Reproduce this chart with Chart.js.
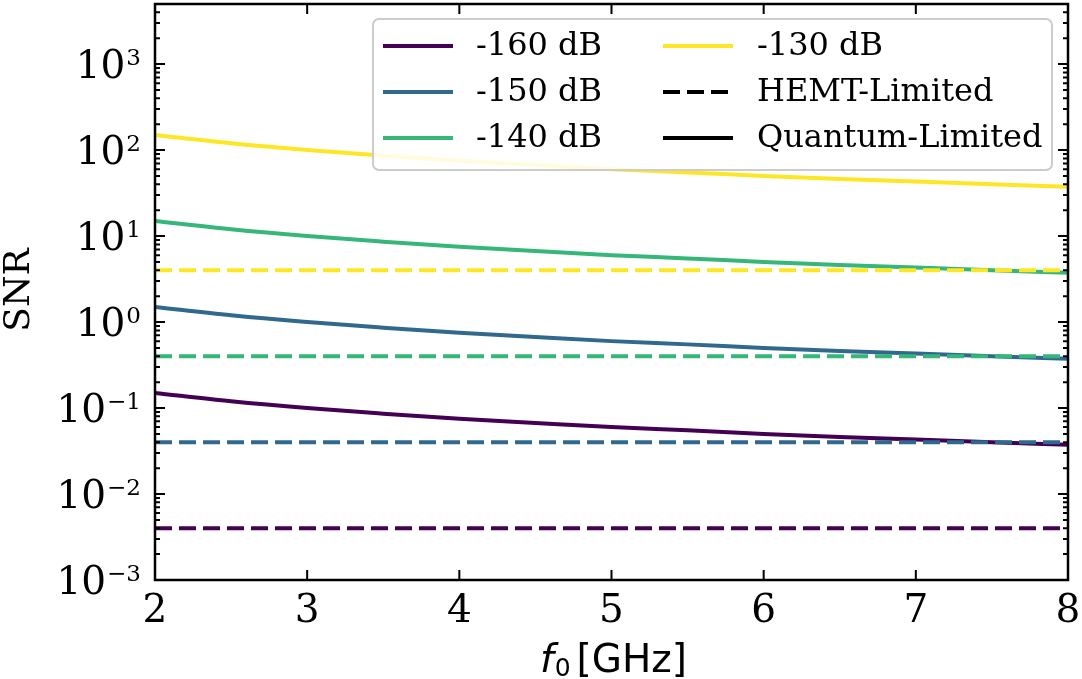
<!DOCTYPE html>
<html>
<head>
<meta charset="utf-8">
<script src="https://cdn.jsdelivr.net/npm/chart.js@4.4.1/dist/chart.umd.min.js"></script>
<style>
  html, body { margin: 0; padding: 0; background: #fff; }
</style>
</head>
<body>
<canvas id="snrChart" width="1082" height="679"></canvas>
<script>
// frequency grid (GHz)
const freqs = [2, 2.5, 3, 3.5, 4, 4.5, 5, 5.5, 6, 6.5, 7, 7.5, 8];

// signal levels and their colours
const levels = ['-160 dB', '-150 dB', '-140 dB', '-130 dB'];
const colors = ['#440154', '#31688e', '#35b779', '#fde725'];

// quantum-limited SNR at each frequency
const quantum160 = [0.15, 0.12, 0.1, 0.086, 0.075, 0.067, 0.06, 0.055, 0.05, 0.046, 0.043, 0.04, 0.0375];
const quantum150 = [1.5, 1.2, 1.0, 0.86, 0.75, 0.67, 0.6, 0.55, 0.5, 0.46, 0.43, 0.4, 0.375];
const quantum140 = [15, 12, 10, 8.6, 7.5, 6.7, 6, 5.5, 5, 4.6, 4.3, 4, 3.75];
const quantum130 = [150, 120, 100, 86, 75, 67, 60, 55, 50, 46, 43, 40, 37.5];
const quantumSeries = [quantum160, quantum150, quantum140, quantum130];

// HEMT-limited SNR (flat in frequency)
const hemtSNR = [0.004, 0.04, 0.4, 4];

const xTicks = [2, 3, 4, 5, 6, 7, 8];
const yExponents = [-3, -2, -1, 0, 1, 2, 3];

const SERIF = '"DejaVu Serif", serif';
const SANS = '"DejaVu Sans", sans-serif';
const DASH = [17, 7];
const LW = 4;

let datasets = [];
levels.forEach((lvl, i) => {
  datasets.push({
    label: lvl,
    data: freqs.map((f, k) => ({ x: f, y: quantumSeries[i][k] })),
    borderColor: colors[i],
    borderWidth: LW,
    pointRadius: 0,
    cubicInterpolationMode: 'monotone'
  });
  datasets.push({
    label: lvl + ' HEMT',
    data: [{ x: freqs[0], y: hemtSNR[i] }, { x: freqs[freqs.length - 1], y: hemtSNR[i] }],
    borderColor: colors[i],
    borderWidth: LW,
    borderDash: DASH,
    pointRadius: 0
  });
});
// later datasets go on top
datasets.forEach((d, i) => { d.order = datasets.length - i; });

function drawPow(ctx, exp, xRight, y) {
  const sup = exp < 0 ? '\u2212' + (-exp) : String(exp);
  ctx.textAlign = 'left';
  ctx.textBaseline = 'alphabetic';
  ctx.font = '23px ' + SERIF;
  const supW = ctx.measureText(sup).width;
  ctx.font = '39px ' + SERIF;
  const mainW = ctx.measureText('10').width;
  const supX = xRight - supW;
  ctx.fillText('10', supX - 1 - mainW, y + 14);
  ctx.font = '23px ' + SERIF;
  ctx.fillText(sup, supX, y + 1);
}

const axesPlugin = {
  id: 'axesFrame',
  afterDraw(chart) {
    const { ctx, chartArea: a, scales: { x, y } } = chart;
    ctx.save();
    ctx.strokeStyle = '#000';
    ctx.fillStyle = '#000';

    // ticks pointing inward on all four sides
    ctx.lineWidth = 2;
    ctx.beginPath();
    xTicks.forEach(v => {
      const px = x.getPixelForValue(v);
      ctx.moveTo(px, a.bottom); ctx.lineTo(px, a.bottom - 10);
      ctx.moveTo(px, a.top); ctx.lineTo(px, a.top + 10);
    });
    for (let e = -3; e <= 3; e++) {
      for (let m = 1; m <= 9; m++) {
        const v = m * Math.pow(10, e);
        if (v > y.max) break;
        const py = y.getPixelForValue(v);
        const len = m === 1 ? 10 : 5;
        ctx.moveTo(a.left, py); ctx.lineTo(a.left + len, py);
        ctx.moveTo(a.right, py); ctx.lineTo(a.right - len, py);
      }
    }
    ctx.stroke();

    ctx.lineWidth = 2.5;
    ctx.strokeRect(a.left, a.top, a.right - a.left, a.bottom - a.top);

    // tick labels
    ctx.font = '39px ' + SERIF;
    ctx.textAlign = 'center';
    ctx.textBaseline = 'alphabetic';
    xTicks.forEach(v => ctx.fillText(String(v), x.getPixelForValue(v), a.bottom + 42));
    yExponents.forEach(e => drawPow(ctx, e, 141, y.getPixelForValue(Math.pow(10, e))));

    // axis titles
    ctx.save();
    ctx.translate(20, (a.top + a.bottom) / 2 - 2);
    ctx.rotate(-Math.PI / 2);
    ctx.font = '36px ' + SERIF;
    ctx.textAlign = 'center';
    ctx.textBaseline = 'middle';
    ctx.fillText('SNR', 0, 0);
    ctx.restore();

    ctx.textAlign = 'left';
    ctx.textBaseline = 'alphabetic';
    ctx.font = 'italic 39px ' + SANS;
    const fW = ctx.measureText('f').width;
    ctx.font = '25px ' + SANS;
    const subW = ctx.measureText('0').width;
    ctx.font = '39px ' + SANS;
    const unitW = ctx.measureText('[GHz]').width;
    const gap = 6;
    let tx = (a.left + a.right) / 2 + 2 - (fW + 1 + subW + gap + unitW) / 2;
    ctx.font = 'italic 39px ' + SANS;
    ctx.fillText('f', tx, 672);
    tx += fW + 1;
    ctx.font = '25px ' + SANS;
    ctx.fillText('0', tx, 676);
    tx += subW + gap;
    ctx.font = '39px ' + SANS;
    ctx.fillText('[GHz]', tx, 672);

    // legend
    const bx = 373, by = 19, bw = 679, bh = 151;
    ctx.beginPath();
    ctx.roundRect(bx, by, bw, bh, 6);
    ctx.fillStyle = 'rgba(255,255,255,0.85)';
    ctx.fill();
    ctx.lineWidth = 2;
    ctx.strokeStyle = '#cccccc';
    ctx.stroke();

    const rows = [46, 92, 138];
    const entries = levels.map((l, i) => ({ text: l, color: colors[i], dash: [] }));
    entries.push({ text: 'HEMT-Limited', color: '#000', dash: DASH });
    entries.push({ text: 'Quantum-Limited', color: '#000', dash: [] });
    const cols = [{ x0: 383, x1: 453, tx: 476 }, { x0: 663, x1: 733, tx: 757 }];
    ctx.font = '32px ' + SERIF;
    ctx.textBaseline = 'middle';
    ctx.textAlign = 'left';
    entries.forEach((en, i) => {
      const c = cols[Math.floor(i / 3)];
      const ry = rows[i % 3];
      ctx.beginPath();
      ctx.setLineDash(en.dash);
      ctx.strokeStyle = en.color;
      ctx.lineWidth = LW;
      ctx.moveTo(c.x0, ry); ctx.lineTo(c.x1, ry);
      ctx.stroke();
      ctx.setLineDash([]);
      ctx.fillStyle = '#000';
      ctx.fillText(en.text, c.tx, ry + 1);
    });
    ctx.restore();
  }
};

new Chart(document.getElementById('snrChart'), {
  type: 'line',
  data: { datasets: datasets },
  options: {
    responsive: false,
    animation: false,
    devicePixelRatio: 1,
    layout: { padding: { top: 4, right: 14, left: 0, bottom: 0 } },
    plugins: { legend: { display: false }, tooltip: { enabled: false } },
    scales: {
      x: {
        type: 'linear', min: 2, max: 8,
        ticks: { display: false },
        grid: { display: false },
        border: { display: false },
        afterFit(s) { s.height = 99; }
      },
      y: {
        type: 'logarithmic', min: 1e-3, max: 5000,
        ticks: { display: false },
        grid: { display: false },
        border: { display: false },
        afterFit(s) { s.width = 155; }
      }
    }
  },
  plugins: [axesPlugin]
});
</script>
</body>
</html>
